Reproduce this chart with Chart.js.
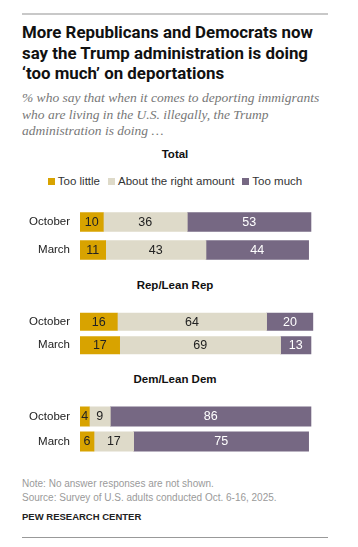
<!DOCTYPE html>
<html>
<head>
<meta charset="utf-8">
<script src="https://cdn.jsdelivr.net/npm/chart.js@4.4.1/dist/chart.umd.min.js"></script>
<style>
  html, body { margin: 0; padding: 0; background: #fff; }
  body { width: 358px; height: 547px; position: relative; overflow: hidden; font-family: "Liberation Sans", Arial, sans-serif; }
  .abs { position: absolute; }
  .rule { position: absolute; left: 22px; width: 306px; background: #c8c8c8; }
  #title { left: 22px; top: 22px; width: 336px; font-family: Roboto, "Liberation Sans", sans-serif; font-weight: bold; font-size: 17.5px; line-height: 20.5px; color: #111; white-space: nowrap; }
  #subtitle { left: 22px; top: 90px; width: 336px; font-family: "Liberation Serif", "DejaVu Serif", serif; font-style: italic; font-size: 13.5px; line-height: 16.5px; color: #777; white-space: nowrap; }
  .heading { left: 22px; width: 306px; text-align: center; font-weight: bold; font-size: 11.5px; color: #111; }
  #legend { left: 22px; top: 175px; width: 306px; text-align: center; font-size: 11.5px; color: #333; white-space: nowrap; }
  #legend span.item { display: inline-block; margin: 0 4px; }
  #legend span.sw { display: inline-block; width: 7px; height: 7px; margin-right: 3px; vertical-align: 0px; }
  .note { left: 22px; font-size: 10px; color: #9a9a9a; }
  #pew { left: 22px; top: 511px; font-size: 9.5px; font-weight: bold; color: #222; }
  .box { position: absolute; left: 0; width: 358px; }
</style>
</head>
<body>
<div class="rule" style="top:13px;height:2px;"></div>
<div id="title" class="abs"><span id="t1">More Republicans and Democrats now</span><br>say the Trump administration is doing<br>‘too much’ on deportations</div>
<div id="subtitle" class="abs">% who say that when it comes to deporting immigrants<br>who are living in the U.S. illegally, the Trump<br>administration is doing …</div>

<div id="h0" class="heading abs" style="top:148px;"></div>
<div id="legend" class="abs"></div>
<div class="box" style="top:207.6px;height:56px;"><canvas id="c0"></canvas></div>

<div id="h1" class="heading abs" style="top:279px;"></div>
<div class="box" style="top:309.6px;height:47px;"><canvas id="c1"></canvas></div>

<div id="h2" class="heading abs" style="top:373px;"></div>
<div class="box" style="top:403.8px;height:50px;"><canvas id="c2"></canvas></div>

<div class="note abs" style="top:478px;">Note: No answer responses are not shown.</div>
<div class="note abs" style="top:492px;">Source: Survey of U.S. adults conducted Oct. 6-16, 2025.</div>
<div id="pew" class="abs">PEW RESEARCH CENTER</div>
<div class="rule" style="top:537px;height:1px;background:#999;"></div>

<script>
// ---- Data ----
const categories = ['October', 'March'];
const groupNames = ['Total', 'Rep/Lean Rep', 'Dem/Lean Dem'];
const seriesNames = ['Too little', 'About the right amount', 'Too much'];

const totalTooLittle = [10, 11];
const totalRightAmount = [36, 43];
const totalTooMuch = [53, 44];

const repTooLittle = [16, 17];
const repRightAmount = [64, 69];
const repTooMuch = [20, 13];

const demTooLittle = [4, 6];
const demRightAmount = [9, 17];
const demTooMuch = [86, 75];

// ---- Styles ----
const seriesColors = ['#d8a300', '#dedac9', '#766883'];
const labelColors = ['#222222', '#222222', '#ffffff'];
const FONT = '"Liberation Sans", Arial, sans-serif';

Chart.defaults.font.family = FONT;
Chart.defaults.animation = false;

// fit title first line to ~291px
(function fitTitle() {
  const t1 = document.getElementById('t1');
  const title = document.getElementById('title');
  let size = 17.5;
  title.style.fontSize = size + 'px';
  const w = t1.getBoundingClientRect().width;
  if (w > 0) {
    size = size * 291 / w;
    title.style.fontSize = size.toFixed(2) + 'px';
  }
})();

['h0', 'h1', 'h2'].forEach((id, i) => { document.getElementById(id).textContent = groupNames[i]; });
const legendEl = document.getElementById('legend');
seriesNames.forEach((name, i) => {
  const item = document.createElement('span');
  item.className = 'item';
  const sw = document.createElement('span');
  sw.className = 'sw';
  sw.style.background = seriesColors[i];
  item.appendChild(sw);
  item.appendChild(document.createTextNode(name));
  legendEl.appendChild(item);
});

const valueLabels = {
  id: 'valueLabels',
  afterDatasetsDraw(chart) {
    const ctx = chart.ctx;
    ctx.save();
    ctx.font = '12.5px ' + FONT;
    ctx.textAlign = 'center';
    ctx.textBaseline = 'middle';
    chart.data.datasets.forEach((ds, di) => {
      const meta = chart.getDatasetMeta(di);
      meta.data.forEach((el, i) => {
        ctx.fillStyle = labelColors[di];
        ctx.fillText(String(ds.data[i]), (el.x + el.base) / 2, el.y + 0.5);
      });
    });
    ctx.restore();
  }
};

function makeChart(id, series, thickness) {
  return new Chart(document.getElementById(id), {
    type: 'bar',
    data: {
      labels: categories,
      datasets: series.map((d, i) => ({
        label: seriesNames[i],
        data: d,
        backgroundColor: seriesColors[i],
        borderWidth: 0,
        barThickness: thickness
      }))
    },
    options: {
      indexAxis: 'y',
      responsive: true,
      maintainAspectRatio: false,
      animation: false,
      layout: { autoPadding: false, padding: { left: 0, right: 44.7, top: 0, bottom: 0 } },
      plugins: { legend: { display: false }, tooltip: { enabled: false } },
      scales: {
        x: { stacked: true, min: 0, max: 100, display: false },
        y: {
          stacked: true,
          grid: { display: false, drawTicks: false },
          border: { display: false },
          ticks: { color: '#222', font: { size: 11.5, family: FONT }, padding: 10, autoSkip: false },
          afterFit(scale) { scale.width = 80; scale.paddingTop = 0; scale.paddingBottom = 0; }
        }
      }
    },
    plugins: [valueLabels]
  });
}

makeChart('c0', [totalTooLittle, totalRightAmount, totalTooMuch], 19);
makeChart('c1', [repTooLittle, repRightAmount, repTooMuch], 17.5);
makeChart('c2', [demTooLittle, demRightAmount, demTooMuch], 19.5);
</script>
</body>
</html>
